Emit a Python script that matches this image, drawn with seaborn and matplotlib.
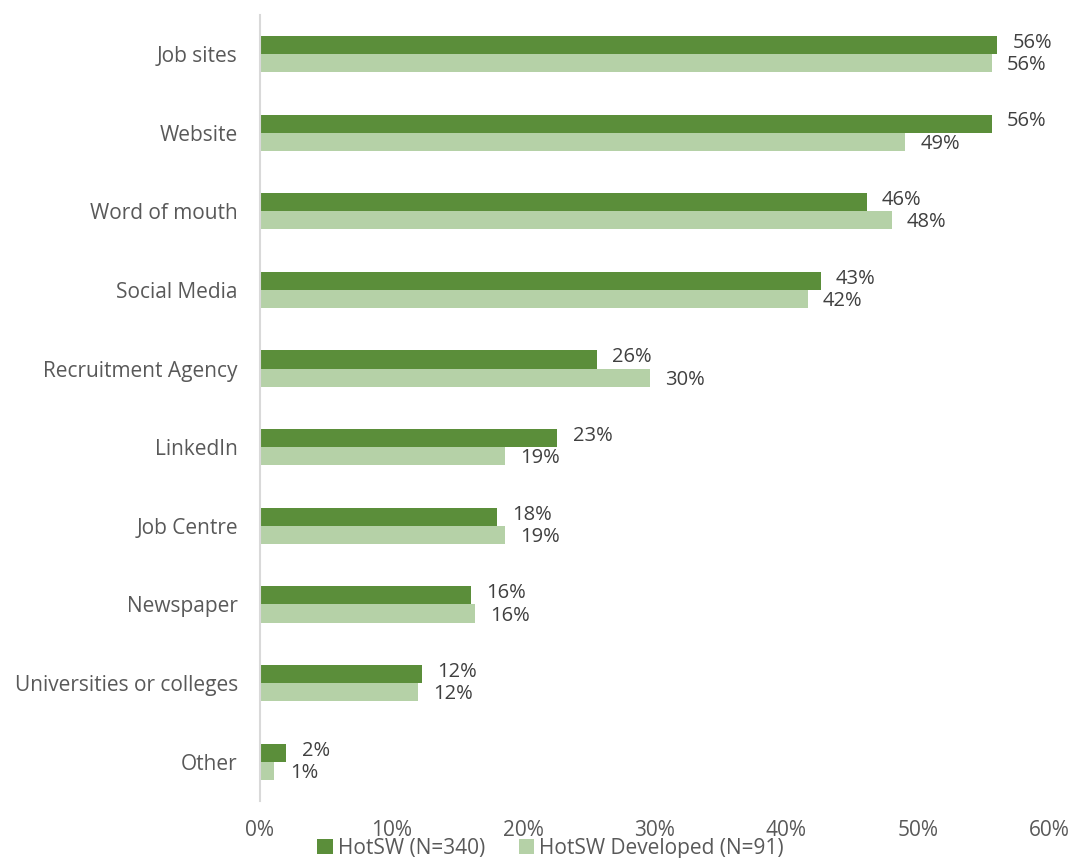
import matplotlib
matplotlib.use("Agg")
import matplotlib.pyplot as plt
import seaborn as sns
import pandas as pd

categories = ["Job sites", "Website", "Word of mouth", "Social Media", "Recruitment Agency",
              "LinkedIn", "Job Centre", "Newspaper", "Universities or colleges", "Other"]
hotsw = [56.0, 55.6, 46.1, 42.6, 25.6, 22.6, 18.0, 16.0, 12.3, 2.0]
hotsw_dev = [55.6, 49.0, 48.0, 41.6, 29.6, 18.6, 18.6, 16.3, 12.0, 1.1]
series = ["HotSW (N=340)", "HotSW Developed (N=91)"]
x_ticks = [0, 10, 20, 30, 40, 50, 60]

colors = ["#5B8E3A", "#B5D1A7"]

df = pd.DataFrame({
    "category": categories * 2,
    "value": hotsw + hotsw_dev,
    "series": [series[0]] * len(categories) + [series[1]] * len(categories),
})

sns.set_theme(style="white")
plt.rcParams["font.family"] = ["Open Sans", "DejaVu Sans"]

fig = plt.figure(figsize=(10.69, 8.58), dpi=100)
ax = fig.add_axes([0.2432, 0.0664, 0.7388, 0.9165])

sns.barplot(data=df, y="category", x="value", hue="series", order=categories,
            hue_order=series, palette=colors, orient="h", width=0.46,
            saturation=1, linewidth=0, ax=ax, legend=True)

# value labels: nudge the upper series up and the lower one down a touch
for cont, dy in zip(ax.containers, [1.5, -1.5]):
    for ann in ax.bar_label(cont, fmt="{:.0f}%", padding=11, fontsize=14.5,
                            color="#404040"):
        ann.xyann = (11, dy)

ax.set_xlim(0, 60)
ax.set_ylim(9.5, -0.5)
ax.set_xticks(x_ticks)
ax.set_xticklabels([f"{t}%" for t in x_ticks])
ax.set_xlabel("")
ax.set_ylabel("")
ax.tick_params(axis="x", length=0, pad=14, labelsize=15, labelcolor="#595959")
ax.tick_params(axis="y", length=0, pad=16, labelsize=15, labelcolor="#595959")

for side in ["top", "right", "bottom"]:
    ax.spines[side].set_visible(False)
ax.spines["left"].set_color("#D9D9D9")
ax.spines["left"].set_linewidth(1.5)

ax.legend_.remove()
handles, labels = ax.get_legend_handles_labels()
fig.legend(handles, labels, loc="center", bbox_to_anchor=(0.515, 0.011), ncol=2,
           frameon=False, fontsize=15, handlelength=0.75, handleheight=0.75,
           handletextpad=0.25, columnspacing=1.6, labelcolor="#595959",
           borderpad=0)

fig.savefig("out.png", dpi=100)
